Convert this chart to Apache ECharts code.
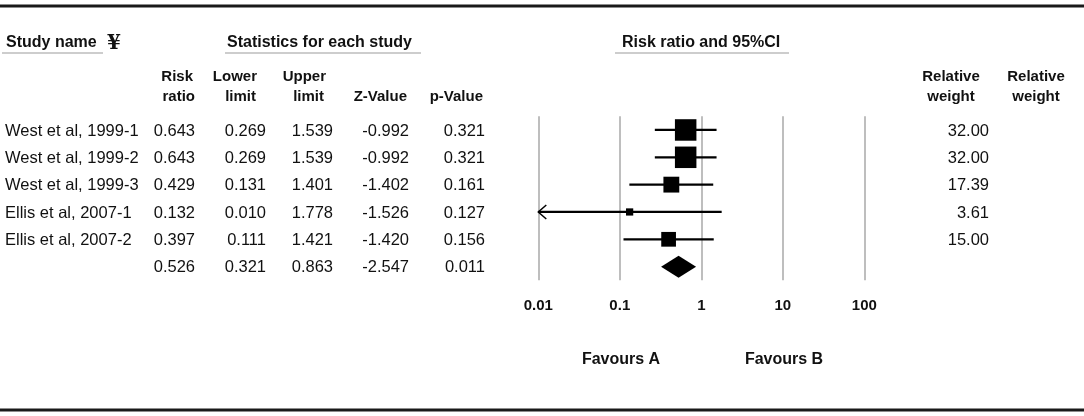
<!DOCTYPE html>
<html>
<head>
<meta charset="utf-8">
<script src="https://cdn.jsdelivr.net/npm/echarts@6/dist/echarts.min.js"></script>
<style>
  html, body { margin: 0; padding: 0; background: #fff; }
  #chart { width: 1084px; height: 416px; }
</style>
</head>
<body>
<div id="chart"></div>
<script>
// study rows
var studies = ['West et al, 1999-1', 'West et al, 1999-2', 'West et al, 1999-3', 'Ellis et al, 2007-1', 'Ellis et al, 2007-2'];
var riskRatio = [0.643, 0.643, 0.429, 0.132, 0.397];
var lowerLimit = [0.269, 0.269, 0.131, 0.010, 0.111];
var upperLimit = [1.539, 1.539, 1.401, 1.778, 1.421];
var zValue = [-0.992, -0.992, -1.402, -1.526, -1.420];
var pValue = [0.321, 0.321, 0.161, 0.127, 0.156];
var relWeight = [32.00, 32.00, 17.39, 3.61, 15.00];

// pooled estimate
var summaryRatio = 0.526;
var summaryLower = 0.321;
var summaryUpper = 0.863;
var summaryZ = -2.547;
var summaryP = 0.011;

var tickLabels = ['0.01', '0.1', '1', '10', '100'];
var xMin = 0.01, xMax = 100;

var FONT = '"Liberation Sans", Arial, sans-serif';
var INK = '#111';

// table column anchors (layout only)
var cols = [
  { x: 5, align: 'left' },
  { x: 195, align: 'right' },
  { x: 266, align: 'right' },
  { x: 333, align: 'right' },
  { x: 409, align: 'right' },
  { x: 485, align: 'right' },
  { x: 989, align: 'right' }
];

function cellText(c, r) {
  if (r < studies.length) {
    switch (c) {
      case 0: return studies[r];
      case 1: return riskRatio[r].toFixed(3);
      case 2: return lowerLimit[r].toFixed(3);
      case 3: return upperLimit[r].toFixed(3);
      case 4: return zValue[r].toFixed(3);
      case 5: return pValue[r].toFixed(3);
      case 6: return relWeight[r].toFixed(2);
    }
  }
  switch (c) {
    case 1: return summaryRatio.toFixed(3);
    case 2: return summaryLower.toFixed(3);
    case 3: return summaryUpper.toFixed(3);
    case 4: return summaryZ.toFixed(3);
    case 5: return summaryP.toFixed(3);
  }
  return '';
}

var tableData = [];
for (var r = 0; r <= studies.length; r++) {
  for (var c = 0; c < cols.length; c++) {
    tableData.push([c, r]);
  }
}

var studyData = studies.map(function (s, i) {
  return [riskRatio[i], lowerLimit[i], upperLimit[i], i, relWeight[i]];
});
var summaryData = [[summaryRatio, summaryLower, summaryUpper, studies.length]];

var rowTop = 116.3, rowHeight = 164;

function renderTable(params, api) {
  var col = cols[api.value(0)];
  var row = api.value(1);
  var pt = api.coord([col.x, row]);
  return {
    type: 'text',
    style: {
      text: cellText(api.value(0), row),
      x: pt[0], y: pt[1] + 1,
      align: col.align, verticalAlign: 'middle',
      font: '16.5px ' + FONT, fill: INK
    }
  };
}

function renderStudy(params, api) {
  var row = api.value(3);
  var mid = api.coord([api.value(0), row]);
  var lo = api.coord([api.value(1), row]);
  var hi = api.coord([api.value(2), row]);
  var s = 21.5 * Math.sqrt(api.value(4) / 32);
  var kids = [
    { type: 'line', shape: { x1: lo[0], y1: lo[1], x2: hi[0], y2: hi[1] }, style: { stroke: '#000', lineWidth: 2.2 } },
    { type: 'rect', shape: { x: mid[0] - s / 2, y: mid[1] - s / 2, width: s, height: s }, style: { fill: '#000' } }
  ];
  if (api.value(1) <= xMin) {
    kids.push({
      type: 'polyline',
      shape: { points: [[lo[0] + 8, lo[1] - 7], [lo[0], lo[1]], [lo[0] + 8, lo[1] + 7]] },
      style: { stroke: '#000', lineWidth: 1.5, fill: null }
    });
  }
  return { type: 'group', children: kids };
}

function renderDiamond(params, api) {
  var row = api.value(3);
  var mid = api.coord([api.value(0), row]);
  var lo = api.coord([api.value(1), row]);
  var hi = api.coord([api.value(2), row]);
  var h = 11;
  return {
    type: 'polygon',
    shape: { points: [[lo[0], lo[1]], [mid[0], mid[1] - h], [hi[0], hi[1]], [mid[0], mid[1] + h]] },
    style: { fill: '#000' }
  };
}

function hText(text, x, y, align, size) {
  return {
    type: 'text', x: x, y: y, silent: true,
    style: { text: text, align: align, verticalAlign: 'middle', font: 'bold ' + (size || 15) + 'px ' + FONT, fill: INK }
  };
}
function hLine(x1, x2, y, color, w) {
  return { type: 'line', silent: true, shape: { x1: x1, y1: y, x2: x2, y2: y }, style: { stroke: color, lineWidth: w } };
}

var chart = echarts.init(document.getElementById('chart'), null, { renderer: 'canvas' });

chart.setOption({
  animation: false,
  backgroundColor: '#fff',
  grid: [
    { left: 538.3, width: 326, top: rowTop, height: rowHeight },
    { left: 0, width: 1084, top: rowTop, height: rowHeight }
  ],
  xAxis: [
    {
      gridIndex: 0, type: 'log', logBase: 10, min: xMin, max: xMax, splitNumber: 4,
      axisLine: { show: false }, axisTick: { show: false },
      splitLine: { show: true, lineStyle: { color: '#a8a8a8', width: 1.5 } },
      axisLabel: {
        margin: 18, color: INK, fontWeight: 'bold', fontSize: 15, fontFamily: FONT,
        formatter: function (v) { return tickLabels[Math.round(Math.log10(v)) + 2]; }
      }
    },
    { gridIndex: 1, type: 'value', min: 0, max: 1084, show: false }
  ],
  yAxis: [
    { gridIndex: 0, type: 'value', inverse: true, min: -0.5, max: 5.5, show: false },
    { gridIndex: 1, type: 'value', inverse: true, min: -0.5, max: 5.5, show: false }
  ],
  series: [
    {
      type: 'custom', xAxisIndex: 1, yAxisIndex: 1, data: tableData,
      renderItem: renderTable, encode: { x: 0, y: 1 }, silent: true
    },
    {
      type: 'custom', xAxisIndex: 0, yAxisIndex: 0, data: studyData,
      renderItem: renderStudy, encode: { x: [0, 1, 2], y: 3 }, clip: false, silent: true
    },
    {
      type: 'custom', xAxisIndex: 0, yAxisIndex: 0, data: summaryData,
      renderItem: renderDiamond, encode: { x: [0, 1, 2], y: 3 }, clip: false, silent: true
    }
  ],
  graphic: [
    hLine(0, 1084, 6, '#1a1a1a', 3),
    hLine(0, 1084, 410, '#1a1a1a', 3),

    hText('Study name', 6, 43, 'left', 16),
    {
      type: 'text', x: 107, y: 44, silent: true,
      style: { text: '\u00a5', align: 'left', verticalAlign: 'middle', font: 'bold 20px "DejaVu Serif", serif', fill: INK }
    },
    hText('Statistics for each study', 227, 43, 'left', 16),
    hText('Risk ratio and 95%CI', 622, 43, 'left', 16),
    hLine(2, 103, 53, '#bdbdbd', 1.5),
    hLine(225, 421, 53, '#bdbdbd', 1.5),
    hLine(615, 789, 53, '#bdbdbd', 1.5),

    hText('Risk', 193, 77, 'right'),
    hText('ratio', 195, 97, 'right'),
    hText('Lower', 257, 77, 'right'),
    hText('limit', 256, 97, 'right'),
    hText('Upper', 326, 77, 'right'),
    hText('limit', 324, 97, 'right'),
    hText('Z-Value', 407, 97, 'right'),
    hText('p-Value', 483, 97, 'right'),
    hText('Relative', 951, 77, 'center'),
    hText('weight', 951, 97, 'center'),
    hText('Relative', 1036, 77, 'center'),
    hText('weight', 1036, 97, 'center'),

    hText('Favours A', 621, 360, 'center', 16),
    hText('Favours B', 784, 360, 'center', 16)
  ]
});
</script>
</body>
</html>
